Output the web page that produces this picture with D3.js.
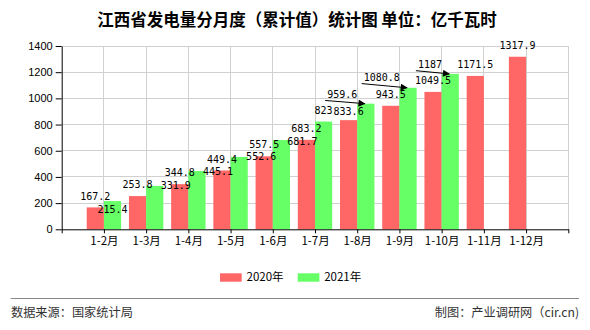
<!DOCTYPE html>
<html><head><meta charset="utf-8">
<script src="https://cdn.jsdelivr.net/npm/d3@7/dist/d3.min.js"></script>
<style>body{margin:0;background:#fff}svg{display:block}</style>
</head><body>
<svg id="c" width="590" height="330"></svg>
<script>
// ---- data ----
const categories = ["1-2月","1-3月","1-4月","1-5月","1-6月","1-7月","1-8月","1-9月","1-10月","1-11月","1-12月"];
const values2020 = [167.2, 253.8, 344.8, 449.4, 557.5, 683.2, 833.6, 943.5, 1049.5, 1171.5, 1317.9];
const values2021 = [215.4, 331.9, 445.1, 552.6, 681.7, 823, 959.6, 1080.8, 1187, null, null];
const seriesNames = ["2020年", "2021年"];
const yTicks = [0, 200, 400, 600, 800, 1000, 1200, 1400];
const titleText = "江西省发电量分月度（累计值）统计图 单位：亿千瓦时";
const sourceText = "数据来源：国家统计局";
const creditText = "制图：产业调研网（cir.cn)";

// ---- layout: label nudges from the original's label-collision handling ----
const nudge2020 = [[0,0],[0,0],[0,0],[0,0],[0,0],[0,0],[0,2.5],[0,0],[0,0],[0,0],[0,0]];
const nudge2021 = [[0,19.5],[21,11],[21,12],[22,11],[21,12.5],[0,0],[-23.6,1.8],[-26.3,0.8],[-20.3,1.8],[0,0],[0,0]];
const leader2021 = [false,false,false,false,false,false,true,true,true,false,false];

const colors = ["#ff6666", "#66ff66"];
const svg = d3.select("#c");
const plotL = 61.7, plotR = 568.3, plotT = 46, plotB = 229.3;
const barW = 17.2;

const x = d3.scalePoint().domain(["__s", ...categories, "__e"]).range([plotL, plotR]);
const y = d3.scaleLinear().domain([0, 1400]).range([plotB, plotT]);

// grid
const grid = svg.append("g").attr("stroke", "#d0d0d0").attr("stroke-width", 1).attr("shape-rendering", "crispEdges");
grid.selectAll("line.h").data(yTicks.filter(d => d > 0)).join("line")
  .attr("x1", plotL).attr("x2", plotR).attr("y1", d => y(d)).attr("y2", d => y(d));
grid.selectAll("line.v").data(x.domain().slice(1)).join("line")
  .attr("x1", d => x(d)).attr("x2", d => x(d)).attr("y1", plotT).attr("y2", plotB);

// bars
const series = [values2020, values2021];
series.forEach((vals, si) => {
  svg.append("g").selectAll("rect")
    .data(categories.map((c, i) => ({c, v: vals[i]})).filter(d => d.v != null))
    .join("rect")
    .attr("x", d => si === 0 ? x(d.c) - barW : x(d.c))
    .attr("width", barW)
    .attr("y", d => y(d.v))
    .attr("height", d => y(0) - y(d.v))
    .attr("fill", colors[si]);
});

// axes
const yAxis = svg.append("g").attr("transform", `translate(${plotL},0)`)
  .call(d3.axisLeft(y).tickValues(yTicks).tickFormat(d3.format("d")).tickSize(6).tickSizeOuter(0).tickPadding(3));
yAxis.selectAll("text").attr("font-family", "Liberation Sans, Arial, sans-serif").attr("font-size", 11).attr("fill", "#000");
yAxis.selectAll("line,path").attr("stroke", "#000");

const xAxis = svg.append("g").attr("transform", `translate(0,${plotB})`)
  .call(d3.axisBottom(x).tickSize(4).tickSizeOuter(0).tickPadding(4)
    .tickFormat(d => d.startsWith("__") ? "" : d));
xAxis.selectAll("text").attr("font-family", "Noto Sans CJK SC, sans-serif").attr("font-size", 11.5).attr("fill", "#000");
xAxis.selectAll("line,path").attr("stroke", "#000");

// arrow marker
svg.append("defs").append("marker").attr("id", "arr")
  .attr("viewBox", "0 0 10 10").attr("refX", 9).attr("refY", 5)
  .attr("markerWidth", 8).attr("markerHeight", 7).attr("markerUnits", "userSpaceOnUse")
  .attr("orient", "auto")
  .append("path").attr("d", "M0,0L10,5L0,10Z").attr("fill", "#000");

// value labels
const labelFont = "DejaVu Sans Mono, Liberation Mono, monospace";
series.forEach((vals, si) => {
  const nud = si === 0 ? nudge2020 : nudge2021;
  categories.forEach((c, i) => {
    const v = vals[i];
    if (v == null) return;
    const bx = si === 0 ? x(c) - barW / 2 : x(c) + barW / 2;
    const by = y(v);
    const cx = bx + nud[i][0];
    const cy = by - 11.5 + nud[i][1];
    const t = svg.append("text").attr("x", cx).attr("y", cy).attr("dy", "0.36em")
      .attr("text-anchor", "middle").attr("font-family", labelFont).attr("font-size", 10)
      .attr("fill", "#000").text(String(v));
    if (si === 1 && leader2021[i]) {
      const w = t.node().getComputedTextLength();
      svg.append("line")
        .attr("x1", cx - w / 2 - 2).attr("y1", cy + 6.5)
        .attr("x2", bx - 1).attr("y2", by)
        .attr("stroke", "#000").attr("stroke-width", 1)
        .attr("marker-end", "url(#arr)");
    }
  });
});

// title
svg.append("text").attr("x", 297).attr("y", 26).attr("text-anchor", "middle")
  .attr("font-family", "Noto Sans CJK SC, sans-serif").attr("font-size", 16.5).attr("font-weight", "bold")
  .attr("fill", "#000").text(titleText);

// legend
const legendX = [220, 297.7];
seriesNames.forEach((n, i) => {
  svg.append("rect").attr("x", legendX[i]).attr("y", 273.3).attr("width", 21.7).attr("height", 8.4).attr("fill", colors[i]);
  svg.append("text").attr("x", legendX[i] + 26.5).attr("y", 281.2)
    .attr("font-family", "Noto Sans CJK SC, sans-serif").attr("font-size", 11.5).attr("fill", "#000").text(n);
});

// footer
svg.append("line").attr("x1", 10.7).attr("x2", 579).attr("y1", 298.5).attr("y2", 298.5)
  .attr("stroke", "#888").attr("stroke-width", 1.2);
svg.append("text").attr("x", 11).attr("y", 316.5)
  .attr("font-family", "Noto Sans CJK SC, sans-serif").attr("font-size", 12.2).attr("fill", "#333").text(sourceText);
svg.append("text").attr("x", 579).attr("y", 316.5).attr("text-anchor", "end")
  .attr("font-family", "Noto Sans CJK SC, sans-serif").attr("font-size", 12.2).attr("fill", "#333").text(creditText);
</script>
</body></html>
